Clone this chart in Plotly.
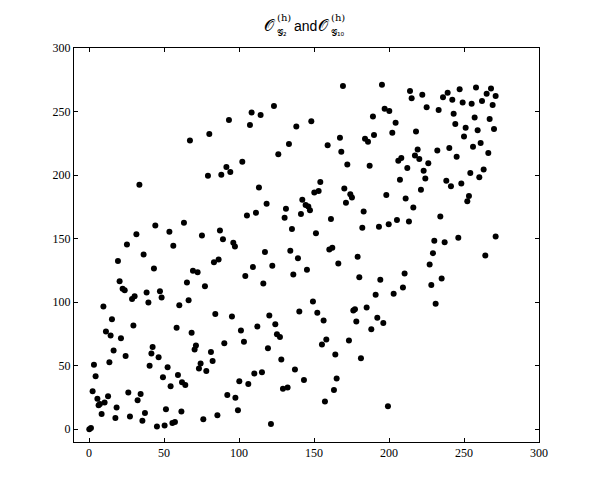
import plotly.graph_objects as go

# points
x_vals = [
    25.3, 56.2, 96.2, 36.4, 19.3, 43.3, 83.3, 86.4, 69.3, 72.4,
    20.4, 65.3, 77.3, 22.4, 23.8, 38.4, 47.3, 28.7, 30.4, 48.4,
    39.6, 60.2, 66.4, 9.6, 84.2, 95.3, 15.3, 29.6, 58.4, 11.3,
    14.4, 21.3, 68.4, 90.2, 71.3, 70.4, 42.4, 16.4, 41.6, 46.4,
    24.4, 81.3, 13.6, 82.4, 74.4, 40.4, 3.3, 73.3, 78.2, 52.4,
    4.4, 49.3, 59.3, 62.0, 64.2, 54.4, 2.4, 26.2, 34.4, 12.7,
    5.6, 10.4, 7.3, 6.4, 32.4, 92.2, 97.6, 18.4, 8.4, 51.3,
    61.6, 37.3, 17.6, 27.3, 35.6, 45.3, 50.4, 55.6, 57.3, 76.2,
    85.6, 0.2, 1.3,
    97.3, 117.3, 134.2, 139.3, 160.2, 162.2, 179.1, 166.2, 109.3, 122.2,
    104.2, 116.2, 136.2, 145.3, 180.2, 194.2, 191.1, 149.3, 140.2, 152.2,
    156.4, 120.2, 124.2, 101.3, 112.2, 125.3, 127.3, 103.3, 119.3, 155.3,
    158.2, 164.2, 176.2, 177.3, 185.1, 178.2, 192.2, 196.2, 188.2, 173.3,
    181.3, 128.2, 137.3, 143.3, 110.2, 115.3, 100.2, 106.2, 129.3, 132.4,
    165.1, 163.3, 157.3, 99.3, 121.3, 199.3,
    230.2, 237.1, 229.3, 264.2, 227.1, 210.4, 235.1, 209.3, 228.2, 203.1,
    231.1,
    93.3, 80.2, 67.3, 91.6, 94.2, 88.2, 79.3, 33.6, 44.2, 63.3,
    53.6, 31.6, 75.3, 87.3, 89.3,
    169.3, 195.3, 197.1, 200.2, 123.3, 108.4, 114.4, 107.3, 148.2, 138.2,
    189.3, 167.3, 184.0, 186.0, 190.0, 133.3, 159.1, 168.2, 126.2, 102.2,
    172.2, 187.1, 154.2, 150.2, 153.1, 170.2, 174.2, 175.3, 171.3, 113.3,
    142.2, 144.4, 146.2, 147.3, 118.4, 131.3, 130.4, 141.3, 105.3, 111.3,
    161.3, 198.2, 183.1, 135.3, 151.3, 182.2, 193.3, 199.8,
    214.0, 215.1, 222.2, 236.0, 239.1, 242.2, 247.1, 258.0, 268.0, 265.1,
    271.1, 262.0, 269.1, 249.1, 255.1, 225.1, 233.1, 243.1, 257.1, 267.1,
    204.4, 244.2, 251.1, 259.1, 270.0, 202.2, 218.0, 250.0, 256.0, 261.1,
    266.2, 232.2, 240.2, 245.1, 219.1, 217.3, 220.2, 226.2, 206.2, 208.2,
    212.2, 223.1, 224.2, 207.3, 221.3, 238.2, 241.3, 248.2, 254.2, 260.2,
    263.1, 253.3, 252.2, 211.1, 216.2, 234.2, 205.3, 213.3, 246.2, 271.1,
]
y_vals = [
    145.4, 144.4, 146.7, 137.5, 132.5, 126.5, 131.5, 133.6, 124.7, 123.6,
    116.5, 115.5, 112.6, 110.5, 109.4, 107.6, 108.7, 102.6, 104.7, 103.7,
    99.7, 97.6, 101.6, 96.6, 90.8, 88.7, 86.6, 81.6, 79.8, 76.9,
    73.8, 71.7, 75.9, 67.7, 65.9, 62.7, 64.8, 61.9, 59.6, 56.7,
    57.7, 60.9, 52.8, 53.8, 51.7, 49.9, 50.7, 47.8, 45.9, 48.8,
    41.7, 40.9, 42.8, 37.0, 34.9, 33.9, 29.9, 28.9, 27.8, 26.0,
    24.1, 21.0, 19.9, 18.9, 22.8, 27.0, 24.9, 17.1, 12.1, 15.7,
    13.9, 12.9, 8.9, 10.0, 6.8, 2.1, 2.9, 5.0, 5.8, 7.9,
    11.0, 0.0, 1.0,
    143.8, 139.4, 140.4, 134.6, 141.5, 142.8, 135.7, 130.4, 127.6, 128.6,
    120.7, 114.7, 121.8, 125.5, 119.7, 117.6, 105.8, 100.5, 92.7, 91.6,
    85.6, 89.5, 82.7, 77.7, 80.8, 74.8, 72.7, 68.8, 63.8, 66.7,
    70.6, 58.8, 93.4, 94.5, 95.8, 84.8, 87.7, 83.7, 78.7, 69.8,
    55.9, 54.9, 47.0, 38.8, 43.8, 44.9, 37.8, 35.7, 31.8, 32.8,
    39.9, 31.0, 21.8, 15.0, 4.2, 18.1,
    148.3, 147.2, 138.6, 136.7, 129.7, 122.6, 118.6, 111.5, 113.6, 106.6,
    98.7,
    243.3, 232.3, 227.3, 206.3, 202.4, 200.3, 199.5, 192.4, 160.4, 162.5,
    155.4, 153.5, 152.5, 156.4, 149.6,
    270.1, 271.1, 252.2, 250.4, 254.3, 249.3, 247.2, 239.4, 242.3, 238.3,
    246.2, 229.4, 228.6, 226.2, 231.5, 224.4, 223.4, 218.4, 216.5, 210.5,
    208.4, 207.3, 194.5, 186.4, 187.4, 189.5, 185.0, 182.4, 178.2, 190.3,
    180.6, 176.4, 175.3, 172.4, 177.4, 173.5, 166.4, 169.3, 168.2, 170.3,
    165.4, 184.3, 171.4, 157.5, 154.3, 158.5, 159.3, 161.4,
    266.1, 260.4, 263.3, 261.2, 264.8, 259.3, 267.5, 269.0, 268.2, 264.0,
    262.2, 258.3, 255.1, 257.2, 256.2, 253.3, 251.2, 248.3, 245.4, 244.1,
    241.2, 240.2, 237.3, 235.2, 236.2, 233.3, 234.4, 230.4, 222.3, 225.2,
    217.3, 219.4, 221.3, 214.4, 220.2, 215.5, 212.6, 209.4, 211.3, 213.4,
    205.5, 203.4, 197.4, 196.3, 188.5, 195.5, 191.3, 193.4, 201.6, 198.4,
    204.5, 183.5, 179.5, 181.6, 174.5, 167.5, 164.6, 163.5, 150.7, 151.7,
]
tick_vals = [0, 50, 100, 150, 200, 250, 300]

# title pieces: stacked super/subscripts done by hand
title_main = "𝒪"
title_sup = "(h)"
title_subs = ["𝒢₂", "𝒢₁₀"]
title_join = "and"

fig = go.Figure(
    go.Scatter(
        x=x_vals,
        y=y_vals,
        mode="markers",
        marker=dict(color="black", size=6, line=dict(width=0)),
        showlegend=False,
    )
)

axis_style = dict(
    range=[-10, 300],
    tickvals=tick_vals,
    ticks="inside",
    ticklen=4,
    tickcolor="black",
    showline=True,
    linecolor="black",
    linewidth=1,
    mirror="ticks",
    showgrid=False,
    zeroline=False,
    tickfont=dict(family="Liberation Serif", size=12, color="black"),
)
fig.update_xaxes(**axis_style)
fig.update_yaxes(**axis_style)


def px_x(px):
    return (px - 74) / 465


def px_y(py):
    return (442 - py) / 394


def note(text, px, py, size, anchor="center", family="DejaVu Sans"):
    fig.add_annotation(
        text=text, xref="paper", yref="paper", x=px_x(px), y=px_y(py),
        xanchor=anchor, yanchor="middle", showarrow=False,
        font=dict(family=family, size=size, color="black"),
    )


for cx, sub in zip([269, 323], title_subs):
    note(title_main, cx, 25, 16)
    note(title_sup, cx + 6, 17, 10, anchor="left", family="DejaVu Serif")
    note(sub, cx + 6, 33, 9, anchor="left")
note(title_join, 305, 26, 14, family="Liberation Sans")

# the page adds an 8px body margin, so the figure is 8px smaller each way
fig.update_layout(
    width=591,
    height=483,
    margin=dict(l=66, r=60, t=40, b=49),
    paper_bgcolor="white",
    plot_bgcolor="white",
)

fig.write_html("out.html")
